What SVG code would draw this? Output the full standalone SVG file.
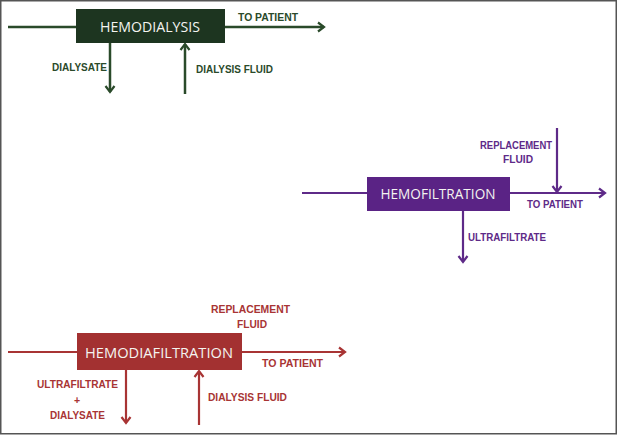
<svg xmlns="http://www.w3.org/2000/svg" width="618" height="436" viewBox="0 0 618 436">
<style>
.lbl{font-family:"Liberation Sans",Arial,sans-serif;font-weight:bold;font-size:10.5px}
.box{font-family:"Open Sans","Liberation Sans",sans-serif;font-size:14px;fill:#f4f4f0;text-anchor:middle}
.g{fill:#2a4a2a}.gs{stroke:#2a4a2a;stroke-width:2.5;fill:none}
.p{fill:#5e2a88}.ps{stroke:#5e2a88;stroke-width:2.2;fill:none}
.r{fill:#a83434}.rs{stroke:#a83434;stroke-width:2.2;fill:none}
</style>
<defs>
<marker id="ag" markerWidth="12" markerHeight="12" refX="9" refY="6" orient="auto" markerUnits="userSpaceOnUse"><path d="M3,1.5 L9,6 L3,10.5" fill="none" stroke="#2a4a2a" stroke-width="2.2"/></marker>
<marker id="ap" markerWidth="12" markerHeight="12" refX="9" refY="6" orient="auto" markerUnits="userSpaceOnUse"><path d="M3,1.5 L9,6 L3,10.5" fill="none" stroke="#5e2a88" stroke-width="2.2"/></marker>
<marker id="ar" markerWidth="12" markerHeight="12" refX="9" refY="6" orient="auto" markerUnits="userSpaceOnUse"><path d="M3,1.5 L9,6 L3,10.5" fill="none" stroke="#a83434" stroke-width="2.2"/></marker>
</defs>
<rect x="0.75" y="0.75" width="615.5" height="433" fill="#fff" stroke="#555" stroke-width="1.5"/>
<g id="connectors">
<line class="gs" x1="8" y1="27" x2="76" y2="27"/>
<line class="gs" x1="225" y1="27" x2="324" y2="27" marker-end="url(#ag)"/>
<line class="gs" x1="110" y1="43" x2="110" y2="92" marker-end="url(#ag)"/>
<line class="gs" x1="185" y1="94" x2="185" y2="44" marker-end="url(#ag)"/>
<line class="ps" x1="302" y1="193" x2="367" y2="193"/>
<line class="ps" x1="510" y1="193" x2="605" y2="193" marker-end="url(#ap)"/>
<line class="ps" x1="557" y1="128" x2="557" y2="192" marker-end="url(#ap)"/>
<line class="ps" x1="463" y1="211" x2="463" y2="262" marker-end="url(#ap)"/>
<line class="rs" x1="8" y1="352" x2="77" y2="352"/>
<line class="rs" x1="242" y1="352" x2="345" y2="352" marker-end="url(#ar)"/>
<line class="rs" x1="126" y1="370" x2="126" y2="423" marker-end="url(#ar)"/>
<line class="rs" x1="199" y1="425" x2="199" y2="371" marker-end="url(#ar)"/>
</g>
<g id="hemodialysis">
<rect x="76" y="9" width="149" height="34" fill="#1d3520"/>
<text class="box" x="150" y="32" textLength="100" lengthAdjust="spacingAndGlyphs">HEMODIALYSIS</text>
<text class="lbl g" x="238" y="21" textLength="60" lengthAdjust="spacingAndGlyphs">TO PATIENT</text>
<text class="lbl g" x="52" y="71" textLength="55" lengthAdjust="spacingAndGlyphs">DIALYSATE</text>
<text class="lbl g" x="196" y="73" textLength="77" lengthAdjust="spacingAndGlyphs">DIALYSIS FLUID</text>
</g>
<g id="hemofiltration">
<rect x="367" y="177" width="143" height="34" fill="#5a2385"/>
<text class="box" x="438" y="199" textLength="115" lengthAdjust="spacingAndGlyphs">HEMOFILTRATION</text>
<text class="lbl p" x="480" y="148.5" textLength="72" lengthAdjust="spacingAndGlyphs">REPLACEMENT</text>
<text class="lbl p" x="503" y="163" textLength="30" lengthAdjust="spacingAndGlyphs">FLUID</text>
<text class="lbl p" x="527" y="208" textLength="56" lengthAdjust="spacingAndGlyphs">TO PATIENT</text>
<text class="lbl p" x="468" y="241" textLength="78" lengthAdjust="spacingAndGlyphs">ULTRAFILTRATE</text>
</g>
<g id="hemodiafiltration">
<rect x="77" y="333" width="165" height="37" fill="#a33131"/>
<text class="box" x="159" y="358" textLength="148" lengthAdjust="spacingAndGlyphs">HEMODIAFILTRATION</text>
<text class="lbl r" x="211" y="313" textLength="79" lengthAdjust="spacingAndGlyphs">REPLACEMENT</text>
<text class="lbl r" x="237" y="328" textLength="30" lengthAdjust="spacingAndGlyphs">FLUID</text>
<text class="lbl r" x="262" y="367" textLength="61" lengthAdjust="spacingAndGlyphs">TO PATIENT</text>
<text class="lbl r" x="37" y="388" textLength="81" lengthAdjust="spacingAndGlyphs">ULTRAFILTRATE</text>
<text class="lbl r" x="77" y="404" text-anchor="middle">+</text>
<text class="lbl r" x="50" y="419" textLength="55" lengthAdjust="spacingAndGlyphs">DIALYSATE</text>
<text class="lbl r" x="208" y="401" textLength="79" lengthAdjust="spacingAndGlyphs">DIALYSIS FLUID</text>
</g>
</svg>
